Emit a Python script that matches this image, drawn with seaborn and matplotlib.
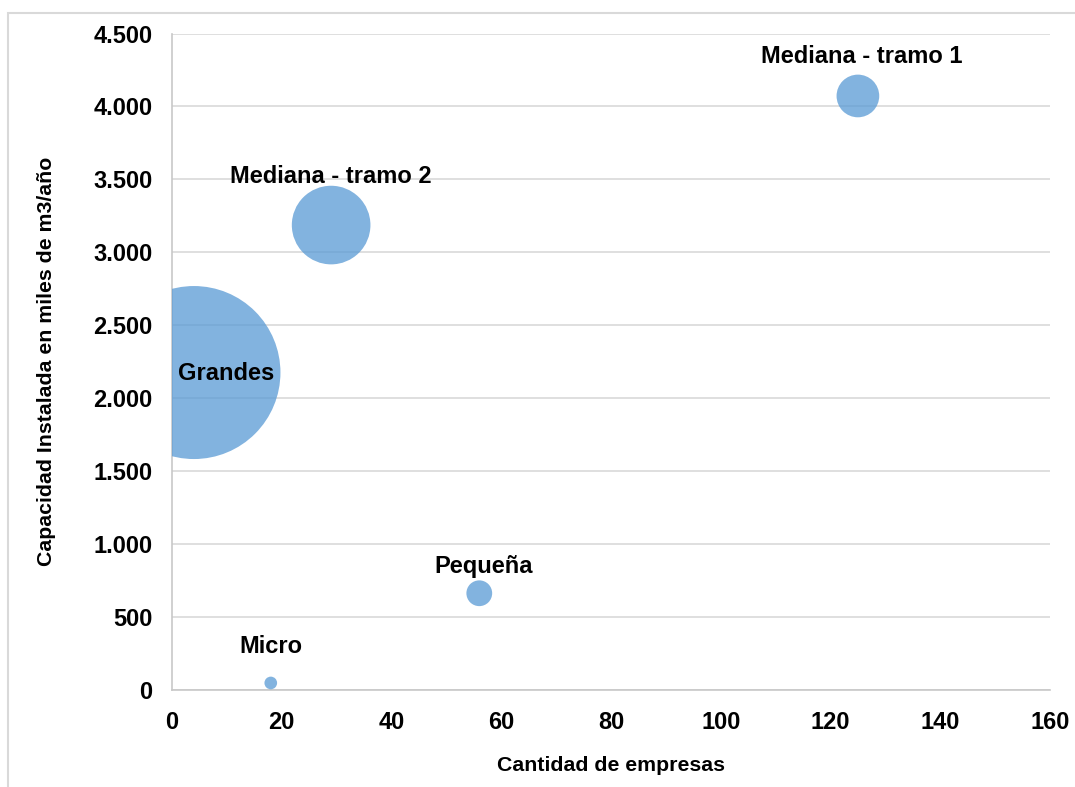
import numpy as np
import pandas as pd
import seaborn as sns
import matplotlib.pyplot as plt
import matplotlib.ticker as ticker
from matplotlib.patches import Rectangle


sns.set_theme(style='white')
plt.rcParams['font.family'] = ['Liberation Sans', 'DejaVu Sans']


# datos
categorias = ['Grandes', 'Mediana - tramo 2', 'Mediana - tramo 1', 'Pequeña', 'Micro']
cantidad_empresas = [4, 29, 125, 56, 18]
capacidad_instalada = [2176, 3187, 4072, 663, 48]
tamano_burbuja = [7480, 1545, 455, 166, 40]

df = pd.DataFrame({'categoria': categorias,
                   'empresas': cantidad_empresas,
                   'capacidad': capacidad_instalada,
                   'tamano': tamano_burbuja})

# desplazamiento de las etiquetas (puntos)
offsets = {'Grandes': (23, -5.5),
           'Mediana - tramo 2': (0, 30),
           'Mediana - tramo 1': (3, 24),
           'Pequeña': (3, 14.5),
           'Micro': (0, 21.5)}

fig = plt.figure(figsize=(10.75, 7.87), dpi=100)
ax = fig.add_axes([0.16, 0.1233, 0.8167, 0.8341])

smax = 2.0736 * 86.5 ** 2
sns.scatterplot(data=df, x='empresas', y='capacidad', size='tamano',
                sizes=(0, smax), size_norm=(0, max(tamano_burbuja)),
                color='#5B9BD5', alpha=0.76, edgecolor='none', linewidth=0,
                legend=False, ax=ax, zorder=3)

for _, row in df.iterrows():
    dx, dy = offsets[row['categoria']]
    ax.annotate(row['categoria'], (row['empresas'], row['capacidad']),
                xytext=(dx, dy), textcoords='offset points',
                ha='center', va='baseline', fontsize=17, fontweight='bold',
                color='black', zorder=5)

ax.set_xlim(0, 160)
ax.set_ylim(0, 4500)
ax.xaxis.set_major_locator(ticker.MultipleLocator(20))
ax.yaxis.set_major_locator(ticker.MultipleLocator(500))
ax.yaxis.set_major_formatter(ticker.FuncFormatter(lambda v, p: f'{v:,.0f}'.replace(',', '.')))

ax.grid(axis='y', color='#d9d9d9', linewidth=1.2, zorder=0)
ax.set_axisbelow(True)
for s in ['top', 'right']:
    ax.spines[s].set_visible(False)
for s in ['left', 'bottom']:
    ax.spines[s].set_color('#c8c8c8')
    ax.spines[s].set_linewidth(1.2)

ax.tick_params(axis='both', length=0, labelsize=17, colors='black')
ax.tick_params(axis='y', pad=14)
ax.tick_params(axis='x', pad=15)
for lab in ax.get_xticklabels() + ax.get_yticklabels():
    lab.set_fontweight('bold')

ax.set_xlabel('Cantidad de empresas', fontsize=15.3, fontweight='bold', labelpad=16, color='black')
ax.set_ylabel('Capacidad Instalada en miles de m3/año', fontsize=15.3, fontweight='bold', labelpad=27, color='black')

# borde del area del grafico
fig.patches.append(Rectangle((8 / 1075, -0.05), 1.2, (787 - 13) / 787 + 0.05,
                             transform=fig.transFigure, fill=False,
                             edgecolor='#d9d9d9', linewidth=1.5))

plt.savefig('out.png', dpi=100)
